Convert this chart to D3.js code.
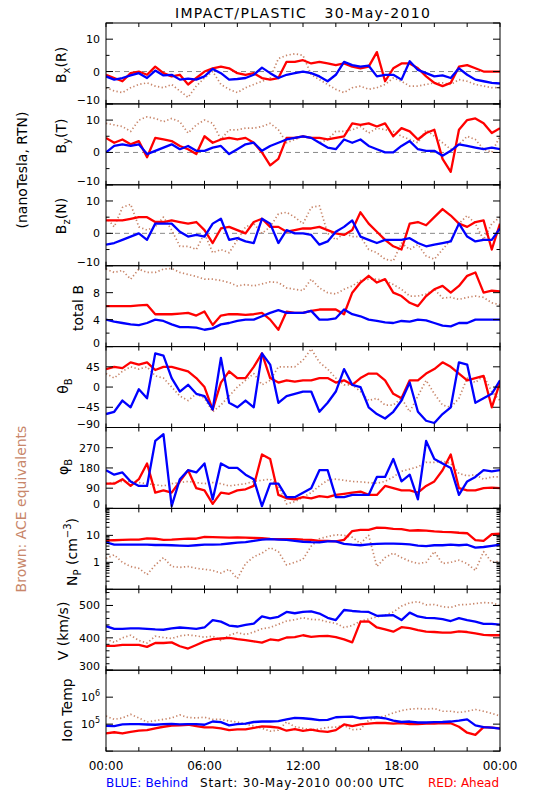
<!DOCTYPE html>
<html><head><meta charset="utf-8">
<script src="https://cdn.jsdelivr.net/npm/d3@7"></script>
<style>body{margin:0;background:#fff}svg{display:block}text{font-family:"DejaVu Sans",sans-serif}</style>
</head><body><svg id="c" width="550" height="800"></svg>
<script>
// sample times (hours) - every 30 min
const hours = d3.range(49).map(i => i * 0.5);

// Panel 1: Bx (R), nT
const bxBlue = [-1.5,-2.5,-2,-1.2,-0.5,-2,0.3,-1.2,-1,-2.5,-2.2,-2.5,-1.5,0.8,-0.5,-2.5,-2.3,-2,-1,1.2,-0.5,-2,-1,-0.5,0,-0.5,-1.5,-3,-1,3,2,1.5,1.8,-1.5,-1,-1,-2.5,3.2,0.5,-0.5,-1.5,-1.2,-2,1,-1,-2.5,-3,-3.5,-3.7];
const bxRed = [-1,-2,-3,-0.5,0,-1,1.5,-0.5,-1.5,-1,-4,-2,0,1,1.5,1,-0.5,-1,-0.5,-2,-2.5,-2,3,3,3.5,2.5,3,2.5,2,2.5,1.5,1,1.5,6,-3,1,2.5,2.5,1,-1.5,-3.5,-4.5,-3.5,1.5,2,1,0,0,0];
const bxBrown = [-5,-6,-6.5,-5,-4,-3.5,-4.5,-5,-4,-6,-8,-4.5,-2,0,-4,-5.5,-6.5,-5,-4,-3,-2,4,5,5.5,5,-1,-2.5,-4,-5.5,-6.5,-5,-4.5,-5.5,-5,-4,-2,-3,-4.5,-4.5,-4,-3.5,-3.5,-4,-2.5,-3,-4,-4.5,-5,-5];
// Panel 2: By (T)
const byBlue = [0,2,2.5,2,2.5,-0.5,0.5,1.5,2.5,1,2,0.5,0.5,1.5,2,-0.5,1,2.5,3,0.5,2,3,4,4.5,5,4.5,3,1.5,1,4,3,4,2,1,0,0,2,3.5,1,0.5,0.5,-1,0.5,2.5,2,1.5,1,1.5,1];
const byRed = [4.5,3,4,2.5,3.5,-1.5,4.5,4,3.5,2,1,-0.5,5,3,4,4.5,4,4.5,3,0,-4,-2,4.5,4.5,5,4.5,4.5,4,4.5,5,9,8.5,9,8,9,5,7.5,6.5,4,6,7,-2,-6,7,10,10.5,9,6,7.5];
const byBrown = [9,8.5,8,6.5,10,11,10.5,9.5,10.5,9.5,6,8.5,10,9,4,7,7,7.5,7.5,8,9,7,3,4,5,4.5,3,4,6.5,6.5,7,8,6,7.5,7,6.5,5,4,3,7,5,3,1,2.5,5,4,1,0,5];
// Panel 3: Bz (N)
const bzBlue = [-3.5,-3,-2,-1,0,-2,3,3,3,0.5,-1,-0.5,-1,3,4.5,-2,-1.5,-2.5,-3,4.5,3,-3,1,0,0,-0.5,-3.5,-2.5,0.5,2,4,-1,-2,-3,-2,-2,-2,-1.5,-3,-4,-3.5,-3,-2.5,3,-1,-2.5,-2,-2,1.5];
const bzRed = [4,4,4,4.5,5,5,3.5,3.5,4,3.5,3,3.5,1,-3,1.5,2,1,0,3.5,4.5,2,2,0.5,1,1.5,1.5,2,1,0,-0.5,1,6.5,3,0.5,-2,-4,-5,3,3.5,2.5,5,7.5,5.5,3,2,3.5,4,-5,3];
const bzBrown = [5,2,8,9,2,1,2,5,1,-4,-4,-5,0,-6,-5,-6,-2,2,3,0,2,6,6.5,5,3,8,8.5,0,-2,0,-1,-1,-5,-6,-8,-8.5,-3,-5,-3.5,-7,-8,-5,-2,3,5.5,3,-2,3,5];
// Panel 4: total B
const btBlue = [4,3.7,3.5,3.3,3.2,3.5,4,3.8,3.3,2.9,2.9,2.8,2.5,2.7,3.3,3.5,3.8,4,4,4.5,5,5.4,5,5,5,5.3,4,4,4.2,5.5,4.8,4.5,4,3.8,3.6,3.5,3.8,3.7,4,3.9,3.5,3.1,3,3.5,3.5,4,4,4,4];
const btRed = [6,6,6,6,6.1,6.2,4.8,4.8,4.8,4.9,5,4.6,5.2,3.2,4.6,4.8,4.8,4.7,4.8,5,4,2.5,5.2,5,5,5.3,5.5,5.5,5.5,4.8,8,9.5,10.5,9.5,10,8,7.5,6.5,6,7.5,8.5,9,8,9,10.5,11,8,8.3,8.2];
const btBrown = [11.5,11,11.3,10,11.5,11,11,11.5,11.6,11,10.7,10.4,10,10,9.8,9.5,9,9.2,9,9.3,9.6,9.5,8.7,8.5,8.3,10,8.7,8,7.8,8.5,9,9.8,10,10,9.8,9.2,8.5,7.5,7.5,7.8,8.5,7.2,7.3,7,7.3,7.5,7.3,6.5,6.2];
// Panel 5: theta B (deg)
const thBlue = [-60,-55,-30,-45,-5,-25,75,70,20,-10,5,-15,-20,-50,65,-35,-45,-30,-45,75,50,-35,-20,-15,-10,-10,-55,-35,-10,40,5,0,-45,-60,-70,-55,-30,10,-55,-75,-80,-60,-45,55,50,-35,-25,-15,15];
const thRed = [40,45,42,55,50,55,38,45,45,40,35,20,0,-50,10,35,20,20,45,75,20,10,15,12,15,15,20,20,10,15,5,20,30,30,15,-15,-25,15,15,30,40,55,45,30,15,20,25,-45,10];
const thBrown = [30,20,35,45,40,45,25,20,0,-20,-30,-15,-25,-55,-40,-20,0,15,30,5,15,45,45,45,60,85,55,40,20,5,5,-10,-30,-25,-40,-40,-25,-55,-20,15,-15,-40,-45,-25,20,10,25,-10,-30];
// Panel 6: phi B (deg)
const phBlue = [170,150,160,120,100,100,300,330,10,130,170,160,200,40,200,180,180,150,130,10,110,110,50,50,70,90,170,170,50,50,60,60,60,140,140,220,120,150,40,300,220,200,180,60,120,140,170,165,170];
const phRed = [110,110,130,100,130,200,70,80,70,120,170,90,80,20,70,65,80,85,100,240,220,60,45,40,50,45,55,50,60,65,70,75,60,60,100,90,80,80,70,100,120,170,240,90,80,80,90,92,90];
const phBrown = [110,115,120,120,115,110,105,100,110,115,120,115,110,115,110,100,105,110,120,125,130,100,20,30,50,70,100,125,130,125,120,118,115,112,120,140,165,175,185,205,205,210,200,155,145,150,130,140,140];
// Panel 7: proton density (cm^-3)
const npBlue = [5.5,4.5,4.5,4.5,4.5,4.5,4.4,4.4,4.3,4.2,4.1,4.3,4.5,4.5,4.6,5.0,5.4,5.6,6.2,7.0,7.2,7.0,6.8,6.3,5.8,5.6,5.5,6.0,6.0,4.8,4.5,4.3,4.6,4.8,4.9,4.9,4.8,4.6,4.2,4.0,4.3,4.3,4.5,4.3,4.5,3.5,3.7,4.1,4.5];
const npRed = [6.5,6.6,6.8,6.9,7.0,7.8,7.5,6.8,6.9,7.3,7.6,7.5,8.7,8.6,8.4,8.3,8.4,8.3,8.0,7.9,7.4,7.3,7.2,7.2,6.9,6.8,6.3,6.2,6.0,6.8,14.5,16,16,19.5,19,17.5,17,15,15.5,15,14,13.5,13.3,12.5,12,6.7,6.3,11,11.5];
const npBrown = [1.4,1.9,1.0,0.7,0.6,0.35,0.8,1.5,0.7,0.65,0.7,0.6,0.55,0.5,0.4,0.55,0.25,0.9,1.6,2.2,3.5,2.5,0.8,1.0,1.3,4.0,7.5,9.0,10.5,10,8.5,5,10,0.7,1.5,2.2,1.5,1.1,0.9,1.0,2.5,0.9,1.0,1.2,0.9,0.5,2.5,1.0,1.1];
// Panel 8: speed (km/s)
const vBlue = [436,428,428,429,429,428,426,425,429,432,430,428,432,455,450,438,435,440,444,466,460,465,480,476,480,482,475,462,455,486,483,481,480,468,469,470,455,478,466,462,461,458,452,461,455,450,443,443,441];
const vRed = [375,375,378,378,378,372,384,384,386,374,367,378,389,396,398,400,396,393,389,385,395,392,401,402,408,403,405,406,402,395,386,450,451,432,426,419,433,430,424,419,418,416,416,420,418,414,409,408,408];
const vBrown = [396,386,400,408,392,384,405,401,398,406,409,406,402,405,392,408,416,410,418,428,432,442,452,456,462,457,456,449,445,432,438,452,458,465,470,480,498,508,512,502,503,496,494,502,503,506,509,508,500];
// Panel 9: ion temperature (K)
const tBlue = [87000,85000,98000,100000,100000,97000,95000,100000,102000,98000,100000,100000,95000,125000,118000,90000,100000,105000,120000,125000,125000,130000,150000,170000,165000,155000,140000,145000,180000,185000,190000,165000,175000,180000,165000,135000,120000,125000,115000,115000,118000,120000,125000,135000,150000,90000,78000,74000,68000];
const tRed = [45000,50000,45000,52000,57000,60000,70000,80000,88000,90000,95000,85000,76000,76000,70000,60000,64000,64000,72000,82000,80000,74000,57000,65000,56000,62000,55000,52000,60000,97000,85000,98000,105000,112000,110000,105000,110000,100000,100000,105000,105000,110000,108000,80000,48000,40000,78000,74000,70000];
const tBrown = [200000,150000,170000,230000,170000,120000,135000,150000,170000,220000,175000,170000,180000,150000,150000,130000,120000,100000,85000,70000,55000,60000,120000,80000,70000,62000,66000,75000,78000,90000,62000,65000,140000,170000,200000,260000,320000,360000,380000,360000,380000,300000,300000,270000,300000,350000,300000,250000,200000];

const timeTicks = [0,2,4,6,8,10,12,14,16,18,20,22,24];
const timeLabels = ["00:00","06:00","12:00","18:00","00:00"];

const svg = d3.select('#c');
const X0 = 106, X1 = 500, TOP = 23, PH = 80.9;
const BLUE = '#0000ff', RED = '#ff0000', BROWN = '#c8866a';
const x = d3.scaleLinear().domain([0, 24]).range([X0, X1]);

function logTicks(lo, hi, minor) {
  const out = [];
  for (let e = Math.round(Math.log10(lo)); e < Math.round(Math.log10(hi)); e++) {
    const b = Math.pow(10, e);
    if (minor) for (let k = 1; k < 10; k++) out.push({v: k * b, major: k === 1});
    else out.push({v: b, major: true});
  }
  out.push({v: hi, major: true});
  return out;
}
const lin = (vals, majors) => vals.map(v => ({v, major: majors.includes(v)}));

const panels = [
  {s: [bxBrown, bxRed, bxBlue], dom: [-10, 15], ticks: lin([-10,-5,0,5,10,15], [-10,0,10,15]), labels: [[-10,'−10'],[0,'0'],[10,'10']], zero: true,
   title: [['B'],['x','sub'],['(R)']], tx: 66, ty: 65},
  {s: [byBrown, byRed, byBlue], dom: [-10, 15], ticks: lin([-10,-5,0,5,10,15], [-10,0,10,15]), labels: [[-10,'−10'],[0,'0'],[10,'10']], zero: true,
   title: [['B'],['y','sub'],['(T)']], tx: 66, ty: 136},
  {s: [bzBrown, bzRed, bzBlue], dom: [-10, 15], ticks: lin([-10,-5,0,5,10,15], [-10,0,10,15]), labels: [[-10,'−10'],[0,'0'],[10,'10']], zero: true,
   title: [['B'],['z','sub'],['(N)']], tx: 66, ty: 216},
  {s: [btBrown, btRed, btBlue], dom: [0, 12], ticks: lin([0,2,4,6,8,10,12], [0,4,8,12]), labels: [[0,'0'],[4,'4'],[8,'8']],
   title: [['total B']], tx: 83, ty: 308},
  {s: [thBrown, thRed, thBlue], dom: [-90, 90], ticks: lin([-90,-45,0,45,90], [-90,-45,0,45,90]), labels: [[-90,'−90'],[-45,'−45'],[0,'0'],[45,'45']],
   title: [['θ'],['B','sub']], tx: 68, ty: 386},
  {s: [phBrown, phRed, phBlue], dom: [0, 360], ticks: lin([0,90,180,270,360], [0,90,180,270,360]), labels: [[0,'0'],[90,'90'],[180,'180'],[270,'270']],
   title: [['φ'],['B','sub']], tx: 68, ty: 467},
  {s: [npBrown, npRed, npBlue], dom: [0.1, 100], log: true, ticks: logTicks(0.1, 100, true), labels: [[1,'1'],[10,'10']],
   title: [['N'],['P','sub'],[' (cm'],['−3','sup'],[')']], tx: 77, ty: 552},
  {s: [vBrown, vRed, vBlue], dom: [300, 550], ticks: lin(d3.range(300, 551, 20).concat([500]), [300,400,500]), labels: [[300,'300'],[400,'400'],[500,'500']],
   title: [['V (km/s)']], tx: 68, ty: 631},
  {s: [tBrown, tRed, tBlue], dom: [1e4, 1e7], log: true, ticks: logTicks(1e4, 1e7, false), labels: [[1e5,['10','5']],[1e6,['10','6']]],
   title: [['Ion Temp']], tx: 72, ty: 710}
];

const defs = svg.append('defs');
const colors = [BROWN, RED, BLUE];

panels.forEach((p, i) => {
  const y0 = TOP + i * PH, y1 = y0 + PH;
  const y = (p.log ? d3.scaleLog() : d3.scaleLinear()).domain(p.dom).range([y1, y0]);
  const g = svg.append('g');
  defs.append('clipPath').attr('id', 'cp' + i).append('rect')
    .attr('x', X0).attr('y', y0).attr('width', X1 - X0).attr('height', PH);
  const plot = g.append('g').attr('clip-path', `url(#cp${i})`);
  if (p.zero) {
    plot.append('line').attr('x1', X0).attr('x2', X1).attr('y1', y(0)).attr('y2', y(0))
      .attr('stroke', '#888').attr('stroke-width', 1).attr('stroke-dasharray', '5,4');
  }
  const line = d3.line().x((d, k) => x(hours[k])).y(d => y(d));
  p.s.forEach((arr, si) => {
    const path = plot.append('path').datum(arr).attr('d', line).attr('fill', 'none')
      .attr('stroke', colors[si]).attr('stroke-linejoin', 'round');
    if (si === 0) path.attr('stroke-width', 1.7).attr('stroke-dasharray', '1.3,2.4');
    else path.attr('stroke-width', 2.3);
  });
  // frame
  g.append('rect').attr('x', X0).attr('y', y0).attr('width', X1 - X0).attr('height', PH)
    .attr('fill', 'none').attr('stroke', '#000').attr('stroke-width', 1);
  // y ticks both sides (inward)
  p.ticks.forEach(t => {
    const yy = y(t.v), len = t.major ? 7 : 3.5;
    g.append('line').attr('x1', X0).attr('x2', X0 + len).attr('y1', yy).attr('y2', yy).attr('stroke', '#000');
    g.append('line').attr('x1', X1).attr('x2', X1 - len).attr('y1', yy).attr('y2', yy).attr('stroke', '#000');
  });
  // x ticks top and bottom (inward)
  timeTicks.forEach(h => {
    g.append('line').attr('x1', x(h)).attr('x2', x(h)).attr('y1', y1).attr('y2', y1 - 4).attr('stroke', '#000');
    g.append('line').attr('x1', x(h)).attr('x2', x(h)).attr('y1', y0).attr('y2', y0 + 4).attr('stroke', '#000');
  });
  // tick labels
  p.labels.forEach(([v, txt]) => {
    let yy = y(v);
    if (v === p.dom[0]) yy -= 4;
    const t = g.append('text').attr('x', 100).attr('y', yy + 4).attr('text-anchor', 'end')
      .attr('font-size', 11);
    if (Array.isArray(txt)) {
      t.append('tspan').text(txt[0]);
      t.append('tspan').attr('dy', -5).attr('font-size', 8).text(txt[1]);
    } else t.text(txt);
  });
  // axis title
  const tt = g.append('text').attr('transform', `translate(${p.tx},${p.ty}) rotate(-90)`)
    .attr('text-anchor', 'middle').attr('font-size', 14);
  let shift = 0;
  p.title.forEach(([s, kind]) => {
    const ts = tt.append('tspan').text(s);
    const target = kind === 'sub' ? 3.5 : kind === 'sup' ? -6 : 0;
    if (target !== shift) { ts.attr('dy', target - shift); shift = target; }
    if (kind) ts.attr('font-size', 10);
  });
  if (i === panels.length - 1) {
    [0, 6, 12, 18, 24].forEach((h, k) => {
      g.append('text').attr('x', x(h)).attr('y', y1 + 19).attr('text-anchor', 'middle')
        .attr('font-size', 12).text(timeLabels[k]);
    });
  }
});

svg.append('text').attr('x', 175).attr('y', 17.5)
  .attr('font-size', 14).attr('textLength', 255).style('white-space', 'pre').text('IMPACT/PLASTIC   30-May-2010');

svg.append('text').attr('transform', 'translate(27,170) rotate(-90)').attr('text-anchor', 'middle')
  .attr('font-size', 14).text('(nanoTesla, RTN)');
svg.append('text').attr('transform', 'translate(26,509) rotate(-90)').attr('text-anchor', 'middle')
  .attr('font-size', 14).attr('fill', BROWN).text('Brown: ACE equivalents');

svg.append('text').attr('x', 106).attr('y', 787).attr('font-size', 12).attr('fill', BLUE)
  .attr('textLength', 82).text('BLUE: Behind');
svg.append('text').attr('x', 200).attr('y', 787).attr('font-size', 12).attr('fill', '#000')
  .attr('textLength', 204).text('Start: 30-May-2010 00:00 UTC');
svg.append('text').attr('x', 428).attr('y', 787).attr('font-size', 12).attr('fill', RED)
  .attr('textLength', 71).text('RED: Ahead');
</script></body></html>
